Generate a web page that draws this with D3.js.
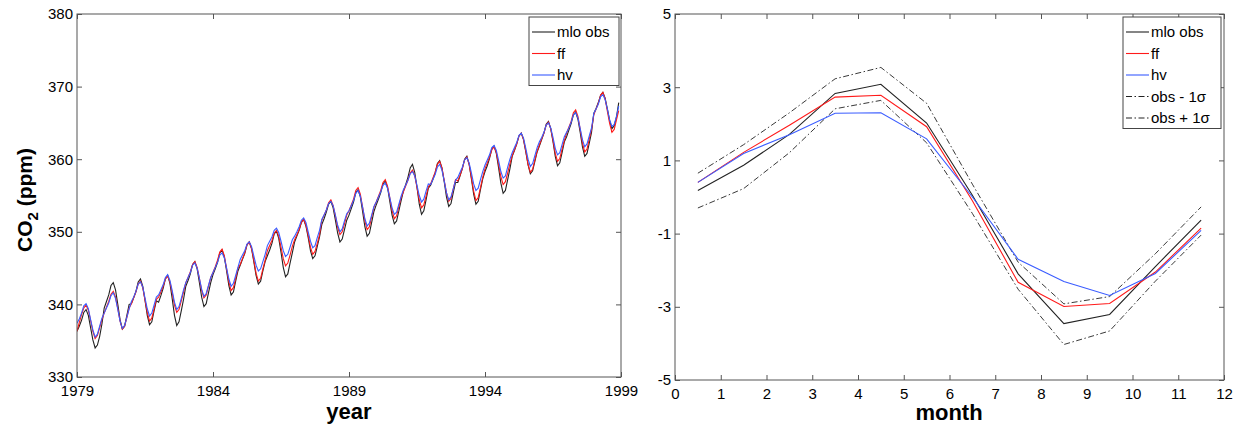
<!DOCTYPE html>
<html>
<head>
<meta charset="utf-8">
<script src="https://cdn.jsdelivr.net/npm/d3@7"></script>
<style>
  html, body { margin: 0; padding: 0; background: #fff; }
  svg { display: block; font-family: "Liberation Sans", Arial, Helvetica, sans-serif; }
</style>
</head>
<body>
<svg id="chart" width="1242" height="428"></svg>
<script>
// ---------------- DATA ----------------
// Left panel: monthly CO2 (ppm), Jan..Dec for each year
const years = [1979,1980,1981,1982,1983,1984,1985,1986,1987,1988,1989,1990,1991,1992,1993,1994,1995,1996,1997,1998];
const monthIndex = [0,1,2,3,4,5,6,7,8,9,10,11];
const yearTicks = [1979, 1984, 1989, 1994, 1999];
const co2Ticks = [330, 340, 350, 360, 370, 380];

const mloObs = [
  336.3,337.0,337.8,338.9,339.3,338.5,336.8,335.1,334.0,334.4,335.6,337.3,
  339.5,340.4,341.3,342.6,343.0,342.0,340.0,337.9,336.6,337.0,338.5,340.0,
  340.1,340.9,341.8,343.1,343.5,342.5,340.6,338.5,337.2,337.6,339.1,340.5,
  340.3,341.2,342.2,343.5,344.0,342.9,340.8,338.5,337.1,337.6,339.1,340.7,
  342.5,343.3,344.2,345.5,345.9,344.9,343.0,341.0,339.7,340.1,341.6,343.0,
  344.1,344.9,345.8,347.1,347.5,346.5,344.6,342.6,341.3,341.7,343.2,344.6,
  345.4,346.2,347.0,348.2,348.6,347.7,345.9,344.0,342.8,343.2,344.6,345.9,
  346.7,347.5,348.4,349.7,350.1,349.1,347.2,345.1,343.8,344.2,345.7,347.1,
  348.6,349.4,350.2,351.3,351.7,350.8,349.2,347.4,346.3,346.7,348.0,349.3,
  351.0,351.8,352.7,353.8,354.2,353.3,351.6,349.8,348.6,349.0,350.3,351.6,
  352.3,353.2,354.1,355.4,355.8,354.8,352.8,350.7,349.4,349.8,351.3,352.8,
  353.7,354.5,355.4,356.6,357.0,356.1,354.2,352.3,351.1,351.5,352.9,354.3,
  355.6,356.5,357.5,358.8,359.3,358.2,356.1,353.8,352.4,352.9,354.4,356.0,
  356.4,357.2,358.1,359.4,359.8,358.8,356.9,354.8,353.5,353.9,355.4,356.8,
  356.8,357.7,358.7,360.0,360.4,359.3,357.3,355.2,353.8,354.2,355.8,357.3,
  358.3,359.1,360.1,361.4,361.8,360.8,358.8,356.7,355.3,355.7,357.2,358.7,
  360.4,361.2,362.1,363.2,363.6,362.7,361.0,359.2,358.0,358.4,359.7,361.0,
  361.8,362.7,363.6,364.8,365.2,364.2,362.4,360.4,359.1,359.5,360.9,362.4,
  363.1,364.0,364.9,366.1,366.5,365.5,363.7,361.7,360.4,360.8,362.2,363.7,
  366.3,367.0,367.8,368.8,369.2,368.4,366.9,365.3,364.2,364.6,365.8,367.8
];
const ffSeries = [
  336.3,337.5,338.6,339.5,339.9,339.2,337.8,336.3,335.3,335.7,336.8,337.9,
  338.8,339.6,340.4,341.4,341.8,341.0,339.4,337.7,336.6,337.0,338.2,339.5,
  340.1,340.9,341.7,342.8,343.2,342.3,340.6,338.9,337.7,338.1,339.4,340.7,
  341.0,341.7,342.5,343.5,343.9,343.1,341.6,339.9,338.9,339.3,340.5,341.7,
  343.0,343.7,344.5,345.5,345.9,345.1,343.6,341.9,340.9,341.3,342.5,343.7,
  344.4,345.2,346.1,347.2,347.6,346.7,344.9,343.1,341.9,342.3,343.6,345.0,
  345.5,346.3,347.1,348.2,348.6,347.7,346.1,344.3,343.2,343.6,344.9,346.1,
  347.4,348.1,348.8,349.8,350.2,349.4,347.9,346.3,345.3,345.7,346.8,348.0,
  348.9,349.6,350.3,351.3,351.7,350.9,349.5,347.9,346.9,347.3,348.4,349.6,
  351.6,352.3,353.0,354.0,354.4,353.6,352.2,350.6,349.6,350.0,351.1,352.3,
  352.9,353.7,354.5,355.7,356.1,355.2,353.4,351.5,350.3,350.7,352.1,353.4,
  354.1,354.9,355.7,356.8,357.2,356.3,354.7,352.9,351.8,352.2,353.5,354.7,
  355.5,356.3,357.1,358.1,358.5,357.7,356.1,354.4,353.3,353.7,354.9,356.2,
  356.6,357.4,358.2,359.3,359.7,358.8,357.1,355.4,354.2,354.6,355.9,357.2,
  357.0,357.8,358.7,359.9,360.3,359.3,357.5,355.6,354.3,354.7,356.1,357.5,
  358.7,359.5,360.3,361.3,361.7,360.9,359.3,357.6,356.5,356.9,358.1,359.4,
  360.5,361.3,362.1,363.2,363.6,362.7,361.1,359.3,358.2,358.6,359.9,361.1,
  362.0,362.8,363.6,364.7,365.1,364.2,362.6,360.8,359.7,360.1,361.4,362.6,
  363.6,364.4,365.2,366.4,366.8,365.9,364.1,362.2,361.0,361.4,362.8,364.1,
  366.1,366.9,367.7,368.8,369.2,368.3,366.6,364.9,363.7,364.1,365.4,366.7
];
const hvSeries = [
  337.4,338.0,338.8,339.8,340.1,339.4,337.9,336.5,335.5,335.9,337.0,338.1,
  338.8,339.5,340.2,341.2,341.6,340.8,339.3,337.7,336.7,337.1,338.2,339.4,
  340.4,341.0,341.8,342.8,343.1,342.4,340.9,339.4,338.4,338.8,339.9,341.0,
  341.3,342.0,342.7,343.7,344.1,343.3,341.9,340.3,339.3,339.7,340.8,342.0,
  343.0,343.7,344.4,345.4,345.7,345.0,343.6,342.1,341.1,341.5,342.6,343.7,
  344.4,345.1,345.8,346.8,347.1,346.4,345.0,343.5,342.5,342.9,344.0,345.1,
  346.2,346.8,347.4,348.3,348.6,348.0,346.7,345.4,344.6,344.9,345.9,346.9,
  348.1,348.7,349.3,350.2,350.5,349.9,348.7,347.4,346.6,346.9,347.9,348.9,
  349.4,350.0,350.7,351.6,351.9,351.3,350.0,348.7,347.8,348.1,349.2,350.2,
  351.7,352.3,353.0,353.9,354.2,353.6,352.3,350.9,350.0,350.4,351.5,352.5,
  352.9,353.6,354.3,355.3,355.7,354.9,353.4,351.8,350.8,351.2,352.3,353.5,
  354.1,354.8,355.5,356.4,356.7,356.0,354.7,353.3,352.4,352.7,353.8,354.9,
  355.8,356.4,357.1,358.0,358.3,357.7,356.4,355.0,354.1,354.5,355.6,356.6,
  356.5,357.2,357.9,358.9,359.3,358.5,357.0,355.4,354.4,354.8,355.9,357.1,
  357.5,358.2,358.9,359.9,360.2,359.5,358.1,356.6,355.7,356.0,357.2,358.3,
  359.2,359.9,360.6,361.6,361.9,361.2,359.8,358.3,357.4,357.7,358.9,360.0,
  360.9,361.6,362.3,363.3,363.6,362.9,361.5,360.0,359.0,359.4,360.5,361.6,
  362.4,363.0,363.7,364.7,365.0,364.3,363.0,361.5,360.6,360.9,362.0,363.1,
  363.7,364.3,365.1,366.1,366.4,365.7,364.2,362.7,361.7,362.1,363.2,364.3,
  366.3,366.9,367.6,368.6,368.9,368.2,366.9,365.4,364.5,364.8,365.9,367.3
];

// Right panel: mean seasonal cycle (ppm anomaly) at mid-month
const months = [0.5,1.5,2.5,3.5,4.5,5.5,6.5,7.5,8.5,9.5,10.5,11.5];
const monthTicks = [0,1,2,3,4,5,6,7,8,9,10,11,12];
const anomTicks = [-5,-3,-1,1,3,5];
const mloCycle   = [0.18,0.87,1.71,2.83,3.08,2.02,0.05,-2.10,-3.46,-3.21,-1.90,-0.63];
const ffCycle    = [0.40,1.22,1.96,2.73,2.78,1.92,-0.10,-2.33,-2.99,-2.91,-2.05,-0.85];
const hvCycle    = [0.40,1.19,1.70,2.29,2.30,1.59,0.00,-1.70,-2.31,-2.69,-2.09,-0.91];
const obsMinus1s = [0.65,1.43,2.30,3.23,3.54,2.56,0.35,-1.78,-2.92,-2.72,-1.55,-0.27];
const obsPlus1s  = [-0.30,0.23,1.21,2.41,2.64,1.48,-0.45,-2.52,-4.03,-3.66,-2.30,-1.04];

const leftLegend = ["mlo obs", "ff", "hv"];
const rightLegend = ["mlo obs", "ff", "hv", "obs - 1\u03C3", "obs + 1\u03C3"];

// ---------------- DRAW ----------------
const svg = d3.select("#chart");
const BLACK = "#222", RED = "#ff1a1a", BLUE = "#3a5cff", AXIS = "#555";
const FONT = 15;
const plainFmt = d => String(d);   // MATLAB-style hyphen minus

// time coordinate for each monthly value
const timePts = [];
years.forEach(y => monthIndex.forEach(m => timePts.push(y + m / 12)));

function frame(g, x, y, xt, yt, pad) {
  const [x0, x1] = x.range(), [y0, y1] = y.range();
  g.append("g").attr("transform", `translate(0,${y0})`)
    .call(d3.axisBottom(x).tickValues(xt).tickSize(-5).tickSizeOuter(0).tickPadding(pad.x).tickFormat(plainFmt));
  g.append("g").attr("transform", `translate(${x0},0)`)
    .call(d3.axisLeft(y).tickValues(yt).tickSize(-5).tickSizeOuter(0).tickPadding(pad.y).tickFormat(plainFmt));
  g.append("g").attr("transform", `translate(0,${y1})`)
    .call(d3.axisTop(x).tickValues(xt).tickSize(-5).tickSizeOuter(0).tickFormat(""));
  g.append("g").attr("transform", `translate(${x1},0)`)
    .call(d3.axisRight(y).tickValues(yt).tickSize(-5).tickSizeOuter(0).tickFormat(""));
  g.selectAll(".domain").remove();
  g.selectAll(".tick line").attr("stroke", AXIS);
  g.selectAll(".tick text").attr("fill", "#000").style("font-size", FONT + "px")
    .style("font-family", '"Liberation Sans", Arial, sans-serif');
  g.append("rect").attr("x", x0).attr("y", y1).attr("width", x1 - x0).attr("height", y0 - y1)
    .attr("fill", "none").attr("stroke", AXIS).attr("stroke-width", 1);
}

function legend(g, x, y, w, items, styles) {
  const rowH = 21.5;
  const h = items.length * rowH + 4;
  g.append("rect").attr("x", x).attr("y", y).attr("width", w).attr("height", h)
    .attr("fill", "#fff").attr("stroke", "#444").attr("stroke-width", 1);
  items.forEach((t, i) => {
    const cy = y + 15 + i * rowH;
    g.append("line").attr("x1", x + 3).attr("x2", x + 26).attr("y1", cy).attr("y2", cy)
      .attr("stroke", styles[i].c).attr("stroke-width", 1.1)
      .attr("stroke-dasharray", styles[i].d || null);
    g.append("text").attr("x", x + 28).attr("y", cy + 5).text(t)
      .style("font-size", FONT + "px").attr("fill", "#000");
  });
}

// ---- Left panel ----
const gL = svg.append("g");
const xL = d3.scaleLinear().domain([1979, 1999]).range([77, 621]);
const yL = d3.scaleLinear().domain([330, 380]).range([377, 14]);
svg.append("clipPath").attr("id", "clipL").append("rect")
  .attr("x", 77).attr("y", 14).attr("width", 544).attr("height", 363);
const lineL = vals => d3.line().x((d, i) => xL(timePts[i])).y(d => yL(d))(vals);
const linesL = gL.append("g").attr("clip-path", "url(#clipL)");
[[mloObs, BLACK], [ffSeries, RED], [hvSeries, BLUE]].forEach(([v, c]) => {
  linesL.append("path").attr("d", lineL(v)).attr("fill", "none").attr("stroke", c).attr("stroke-width", 1.1);
});
frame(gL, xL, yL, yearTicks, co2Ticks, { x: 8, y: 4 });
legend(gL, 529, 17, 90, leftLegend, [{ c: BLACK }, { c: RED }, { c: BLUE }]);

// axis titles
gL.append("text").attr("x", 349).attr("y", 419).attr("text-anchor", "middle")
  .style("font-size", "22px").style("font-weight", "bold").text("year");
const yt = gL.append("text").attr("transform", "translate(32,200) rotate(-90)")
  .attr("text-anchor", "middle").style("font-size", "21px").style("font-weight", "bold");
yt.append("tspan").text("CO");
yt.append("tspan").attr("dy", 6).style("font-size", "15px").text("2");
yt.append("tspan").attr("dy", -6).text(" (ppm)");

// ---- Right panel ----
const gR = svg.append("g");
const xR = d3.scaleLinear().domain([0, 12]).range([675, 1224]);
const yR = d3.scaleLinear().domain([-5, 5]).range([380, 14]);
const lineR = vals => d3.line().x((d, i) => xR(months[i])).y(d => yR(d))(vals);
const DASH = "6,2.5,1.5,2.5";
[[obsMinus1s, BLACK, DASH], [obsPlus1s, BLACK, DASH], [mloCycle, BLACK, null], [ffCycle, RED, null], [hvCycle, BLUE, null]]
  .forEach(([v, c, d]) => {
    gR.append("path").attr("d", lineR(v)).attr("fill", "none").attr("stroke", c)
      .attr("stroke-width", d ? 0.9 : 1.1).attr("stroke-dasharray", d);
  });
frame(gR, xR, yR, monthTicks, anomTicks, { x: 8, y: 4 });
legend(gR, 1123, 17, 98, rightLegend,
  [{ c: BLACK }, { c: RED }, { c: BLUE }, { c: BLACK, d: DASH }, { c: BLACK, d: DASH }]);
gR.append("text").attr("x", 949).attr("y", 420).attr("text-anchor", "middle")
  .style("font-size", "22px").style("font-weight", "bold").text("month");
</script>
</body>
</html>
